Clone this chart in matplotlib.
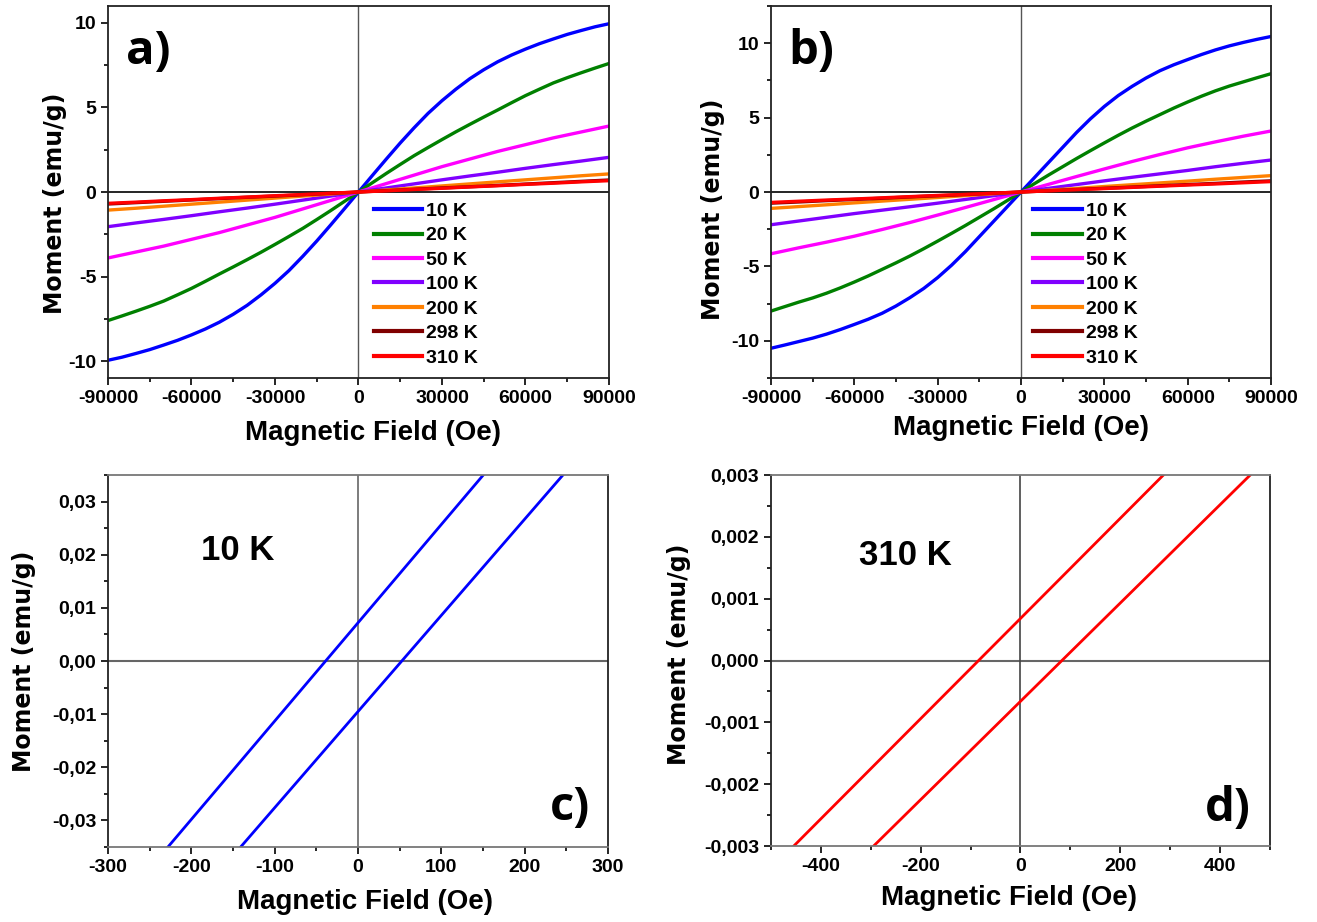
import matplotlib
matplotlib.use("Agg")
import matplotlib.pyplot as plt
from matplotlib.ticker import MultipleLocator, FuncFormatter
import numpy as np

plt.rcParams['axes.unicode_minus'] = False
NARROW = ['Liberation Sans Narrow', 'Liberation Sans', 'DejaVu Sans']
WIDE = ['DejaVu Sans']
LOGO = ['Open Sans', 'DejaVu Sans']

# ---- data ----
field = [-90000, -80000, -70000, -60000, -50000, -40000, -30000, -20000, -10000, 0,
         10000, 20000, 30000, 40000, 50000, 60000, 70000, 80000, 90000]
field_fine = [-90000, -85000, -80000, -75000, -70000, -65000, -60000, -55000, -50000,
              -45000, -40000, -35000, -30000, -25000, -20000, -15000, -10000, -5000, 0,
              5000, 10000, 15000, 20000, 25000, 30000, 35000, 40000, 45000, 50000,
              55000, 60000, 65000, 70000, 75000, 80000, 85000, 90000]
temps = ['10 K', '20 K', '50 K', '100 K', '200 K', '298 K', '310 K']
colors = ['#0000ff', '#008000', '#ff00ff', '#8000ff', '#ff8000', '#800000', '#ff0000']

# panel a (10 K and 20 K on field_fine, the rest on field)
a_10K = [-9.95, -9.77, -9.55, -9.32, -9.05, -8.77, -8.45, -8.1, -7.7, -7.23, -6.7,
         -6.08, -5.4, -4.65, -3.8, -2.9, -1.95, -0.98, 0,
         0.98, 1.95, 2.9, 3.8, 4.65, 5.4, 6.08, 6.7, 7.23, 7.7, 8.1, 8.45, 8.77,
         9.05, 9.32, 9.55, 9.77, 9.95]
a_20K = [-7.6, -7.33, -7.05, -6.76, -6.45, -6.08, -5.7, -5.28, -4.85, -4.43, -4.0,
         -3.56, -3.1, -2.63, -2.15, -1.63, -1.1, -0.55, 0,
         0.55, 1.1, 1.63, 2.15, 2.63, 3.1, 3.56, 4.0, 4.43, 4.85, 5.28, 5.7, 6.08,
         6.45, 6.76, 7.05, 7.33, 7.6]
a_50K = [-3.9, -3.55, -3.2, -2.8, -2.4, -1.95, -1.5, -1.0, -0.5, 0,
         0.5, 1.0, 1.5, 1.95, 2.4, 2.8, 3.2, 3.55, 3.9]
a_100K = [-2.05, -1.83, -1.62, -1.4, -1.17, -0.95, -0.72, -0.48, -0.24, 0,
          0.24, 0.48, 0.72, 0.95, 1.17, 1.4, 1.62, 1.83, 2.05]
a_200K = [-1.07, -0.96, -0.84, -0.72, -0.6, -0.48, -0.36, -0.24, -0.12, 0,
          0.12, 0.24, 0.36, 0.48, 0.6, 0.72, 0.84, 0.96, 1.07]
a_298K = [-0.71, -0.63, -0.55, -0.47, -0.39, -0.31, -0.24, -0.16, -0.08, 0,
          0.08, 0.16, 0.24, 0.31, 0.39, 0.47, 0.55, 0.63, 0.71]
a_310K = [-0.67, -0.6, -0.52, -0.45, -0.37, -0.3, -0.22, -0.15, -0.07, 0,
          0.07, 0.15, 0.22, 0.3, 0.37, 0.45, 0.52, 0.6, 0.67]

# panel b
b_10K = [-10.5, -10.28, -10.05, -9.82, -9.55, -9.24, -8.9, -8.55, -8.15, -7.66, -7.1,
         -6.48, -5.75, -4.92, -4.0, -3.0, -2.0, -1.0, 0,
         1.0, 2.0, 3.0, 4.0, 4.92, 5.75, 6.48, 7.1, 7.66, 8.15, 8.55, 8.9, 9.24,
         9.55, 9.82, 10.05, 10.26, 10.45]
b_20K = [-8.0, -7.7, -7.4, -7.12, -6.8, -6.44, -6.05, -5.64, -5.2, -4.76, -4.3,
         -3.81, -3.3, -2.78, -2.25, -1.7, -1.15, -0.58, 0,
         0.58, 1.15, 1.7, 2.25, 2.78, 3.3, 3.81, 4.3, 4.76, 5.2, 5.64, 6.05, 6.44,
         6.8, 7.12, 7.4, 7.68, 7.95]
b_50K = [-4.15, -3.75, -3.37, -2.97, -2.52, -2.05, -1.55, -1.04, -0.52, 0,
         0.52, 1.04, 1.55, 2.05, 2.52, 2.97, 3.37, 3.75, 4.1]
b_100K = [-2.2, -1.95, -1.7, -1.45, -1.22, -0.99, -0.75, -0.5, -0.25, 0,
          0.25, 0.5, 0.75, 0.99, 1.22, 1.45, 1.7, 1.93, 2.15]
b_200K = [-1.1, -0.98, -0.86, -0.73, -0.61, -0.49, -0.37, -0.24, -0.12, 0,
          0.12, 0.24, 0.37, 0.49, 0.61, 0.73, 0.86, 0.98, 1.1]
b_298K = [-0.75, -0.67, -0.58, -0.5, -0.42, -0.33, -0.25, -0.17, -0.08, 0,
          0.08, 0.17, 0.25, 0.33, 0.42, 0.5, 0.58, 0.67, 0.75]
b_310K = [-0.7, -0.62, -0.54, -0.47, -0.39, -0.31, -0.23, -0.16, -0.08, 0,
          0.08, 0.16, 0.23, 0.31, 0.39, 0.47, 0.54, 0.62, 0.7]

# panel c, 10 K loop near origin
c_field = [-300, -200, -100, 0, 100, 200, 300]
c_up = [-0.0483, -0.0298, -0.0113, 0.0072, 0.0257, 0.0442, 0.0627]
c_down = [-0.0638, -0.0457, -0.0276, -0.0095, 0.0086, 0.0267, 0.0448]

# panel d, 310 K loop near origin
d_field = [-500, -250, 0, 250, 500]
d_up = [-0.00337, -0.001345, 0.00068, 0.002705, 0.00473]
d_down = [-0.004635, -0.0026475, -0.00066, 0.0013275, 0.003315]

a_series = [a_10K, a_20K, a_50K, a_100K, a_200K, a_298K, a_310K]
b_series = [b_10K, b_20K, b_50K, b_100K, b_200K, b_298K, b_310K]

fig = plt.figure(figsize=(13.17, 9.22), dpi=100)

pos = {
    'a': [0.0820, 0.5900, 0.3804, 0.4035],
    'b': [0.5854, 0.5900, 0.3797, 0.4035],
    'c': [0.0820, 0.0813, 0.3797, 0.4035],
    'd': [0.5854, 0.0824, 0.3789, 0.4024],
}


def style(ax, xlab_xy, ylab_xy):
    ax.tick_params(which='both', direction='out', top=False, right=False,
                   labelsize=14, width=1.2, colors='black')
    ax.tick_params(which='major', length=5)
    ax.tick_params(which='minor', length=3)
    for lab in ax.get_xticklabels() + ax.get_yticklabels():
        lab.set_family(NARROW)
        lab.set_fontweight('bold')
    for s in ax.spines.values():
        s.set_linewidth(1.3)
        s.set_color('#222222')
    ax.set_xlabel('Magnetic Field (Oe)', family=NARROW, fontweight='bold', fontsize=20)
    ax.set_ylabel('Moment (emu/g)', family=WIDE, fontweight='bold', fontsize=17)
    ax.xaxis.set_label_coords(*xlab_xy)
    ax.yaxis.set_label_coords(*ylab_xy)


def comma(fmt):
    return FuncFormatter(lambda v, p: fmt.format(v).replace('.', ','))


# ---- panels a and b ----
for key, series, ylim, xlab_xy, ylab_xy in [
        ('a', a_series, (-11, 11), (0.529, -0.113), (-0.082, 0.47)),
        ('b', b_series, (-12.5, 12.5), (0.50, -0.100), (-0.092, 0.454))]:
    ax = fig.add_axes(pos[key])
    ax.axhline(0, color='black', lw=1.2, zorder=1)
    ax.axvline(0, color='#555555', lw=1.0, zorder=1)
    for vals, col, lab in zip(series, colors, temps):
        xs = field_fine if len(vals) == len(field_fine) else field
        ax.plot(xs, vals, color=col, lw=2.4, label=lab, zorder=2)
    ax.set_xlim(-90000, 90000)
    ax.set_ylim(*ylim)
    ax.set_xticks(np.arange(-90000, 90001, 30000))
    ax.xaxis.set_minor_locator(MultipleLocator(15000))
    ax.set_yticks([-10, -5, 0, 5, 10])
    ax.yaxis.set_minor_locator(MultipleLocator(2.5))
    ax.xaxis.set_major_formatter(FuncFormatter(lambda v, p: '%d' % v))
    ax.yaxis.set_major_formatter(FuncFormatter(lambda v, p: '%d' % v))
    style(ax, xlab_xy, ylab_xy)
    leg = ax.legend(loc='upper left', bbox_to_anchor=(0.53 if key == 'a' else 0.524, 0.472),
                    frameon=False, borderpad=0, borderaxespad=0, handlelength=2.5,
                    handletextpad=0.2, labelspacing=0.35,
                    prop={'family': NARROW, 'weight': 'bold', 'size': 14})
    for h in leg.get_lines():
        h.set_linewidth(3)
    ax.text(0.036 if key == 'a' else 0.034, 0.878, key + ')', transform=ax.transAxes,
            family=LOGO, fontweight='bold', fontsize=34, ha='left', va='center')

# ---- panel c ----
ax = fig.add_axes(pos['c'])
ax.axhline(0, color='#666666', lw=1.5, zorder=1)
ax.axvline(0, color='#666666', lw=1.2, zorder=1)
ax.plot(c_field, c_up, color='#0000ff', lw=2.0)
ax.plot(c_field, c_down, color='#0000ff', lw=2.0)
ax.set_xlim(-300, 300)
ax.set_ylim(-0.035, 0.035)
ax.set_xticks(np.arange(-300, 301, 100))
ax.xaxis.set_minor_locator(MultipleLocator(50))
ax.set_yticks([-0.03, -0.02, -0.01, 0, 0.01, 0.02, 0.03])
ax.yaxis.set_minor_locator(MultipleLocator(0.005))
ax.yaxis.set_major_formatter(comma('{:.2f}'))
ax.xaxis.set_major_formatter(FuncFormatter(lambda v, p: '%d' % v))
style(ax, (0.514, -0.112), (-0.144, 0.5))
ax.spines['top'].set_color('#777777')
ax.spines['bottom'].set_color('#777777')
ax.text(0.186, 0.796, '10 K', transform=ax.transAxes, family=NARROW,
        fontweight='bold', fontsize=25, ha='left', va='center')
ax.text(0.884, 0.105, 'c)', transform=ax.transAxes, family=LOGO,
        fontweight='bold', fontsize=34, ha='left', va='center')

# ---- panel d ----
ax = fig.add_axes(pos['d'])
ax.axhline(0, color='#666666', lw=1.5, zorder=1)
ax.axvline(0, color='#444444', lw=1.2, zorder=1)
ax.plot(d_field, d_up, color='#ff0000', lw=2.0)
ax.plot(d_field, d_down, color='#ff0000', lw=2.0)
ax.set_xlim(-500, 500)
ax.set_ylim(-0.003, 0.003)
ax.set_xticks([-400, -200, 0, 200, 400])
ax.xaxis.set_minor_locator(MultipleLocator(100))
ax.set_yticks([-0.003, -0.002, -0.001, 0, 0.001, 0.002, 0.003])
ax.yaxis.set_minor_locator(MultipleLocator(0.0005))
ax.yaxis.set_major_formatter(comma('{:.3f}'))
ax.xaxis.set_major_formatter(FuncFormatter(lambda v, p: '%d' % v))
style(ax, (0.478, -0.105), (-0.16, 0.516))
ax.spines['top'].set_color('#777777')
ax.spines['bottom'].set_color('#777777')
ax.text(0.176, 0.782, '310 K', transform=ax.transAxes, family=NARROW,
        fontweight='bold', fontsize=25, ha='left', va='center')
ax.text(0.87, 0.10, 'd)', transform=ax.transAxes, family=LOGO,
        fontweight='bold', fontsize=34, ha='left', va='center')

fig.savefig('out.png', dpi=100)
